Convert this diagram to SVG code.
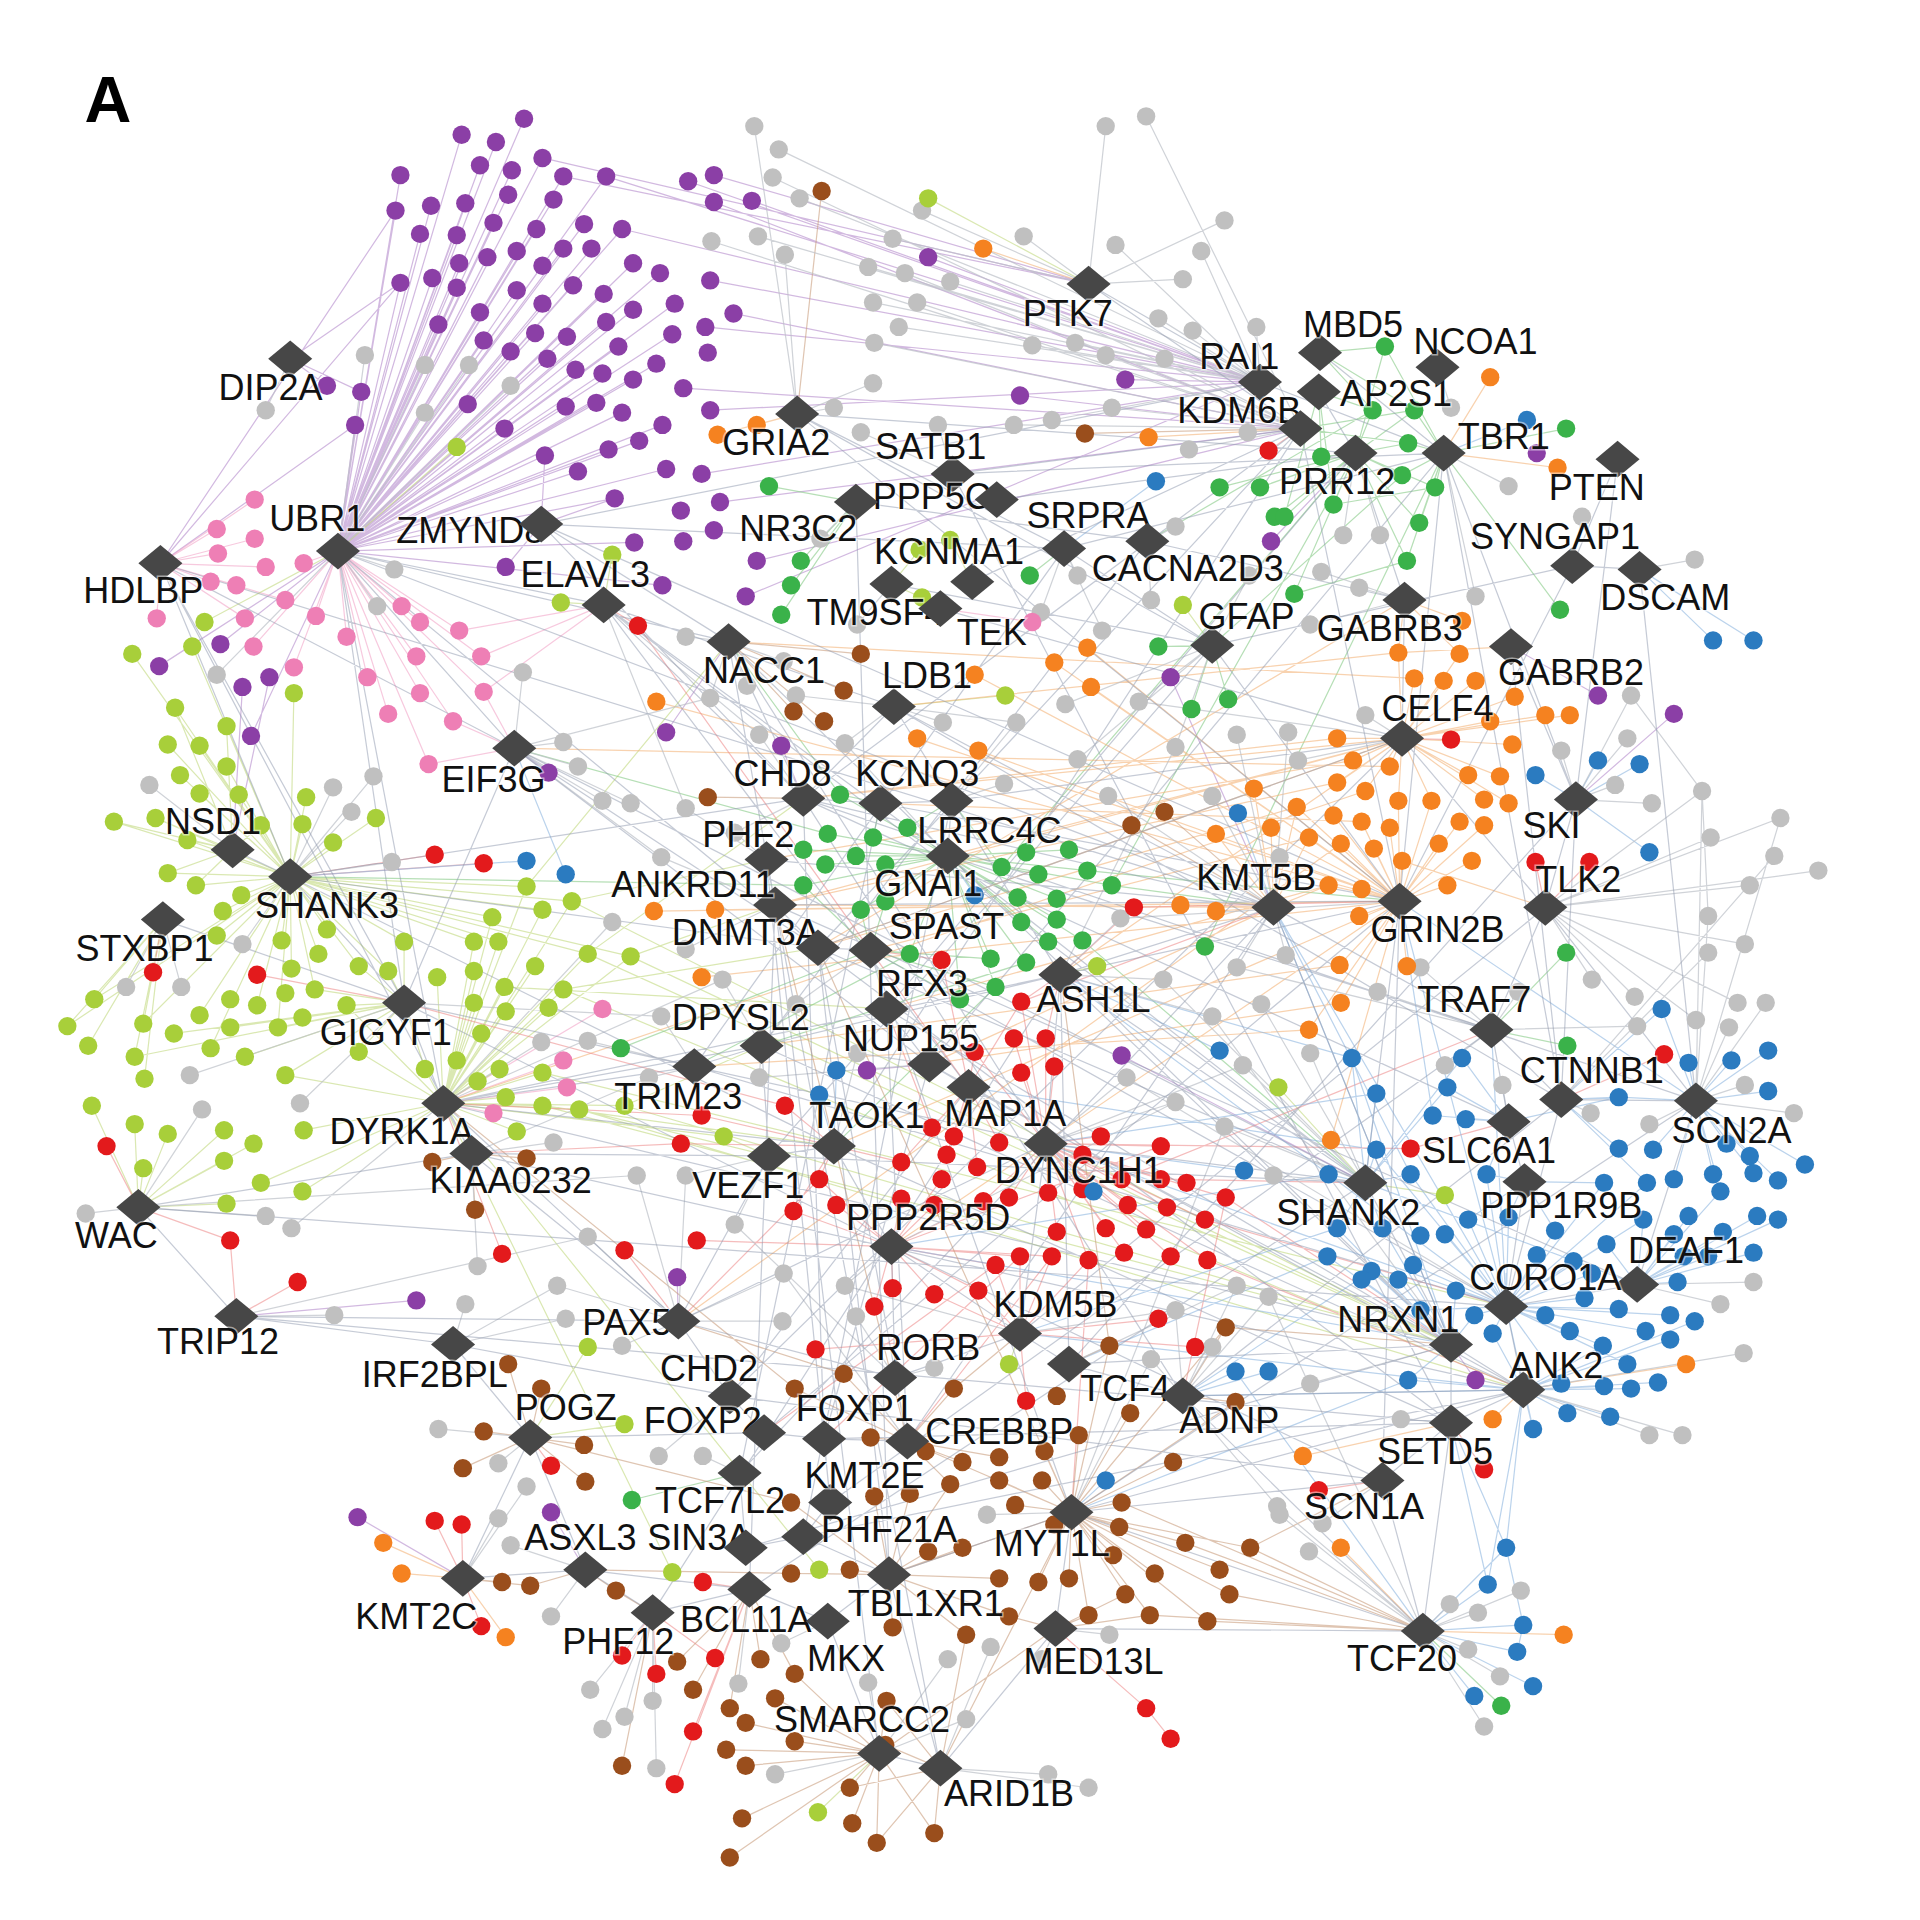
<svg xmlns="http://www.w3.org/2000/svg" width="1920" height="1920" viewBox="0 0 1920 1920">
<style>
.e path{fill:none;stroke-width:1;stroke-linecap:round}
.ep{stroke:#b48bcb;stroke-opacity:.6}
.ek{stroke:#f2a5c8;stroke-opacity:.6}
.ey{stroke:#c2d97f;stroke-opacity:.6}
.eg{stroke:#86c986;stroke-opacity:.6}
.eo{stroke:#f4b47a;stroke-opacity:.6}
.er{stroke:#ec8585;stroke-opacity:.55}
.eb{stroke:#8db6df;stroke-opacity:.6}
.en{stroke:#c99e7f;stroke-opacity:.6}
.ee{stroke:#bcc0c7;stroke-opacity:.7}
.eh{stroke:#8e98ae;stroke-opacity:.5}
.nd use{fill:#474747}
.nd text{font-family:"Liberation Sans",Arial,Helvetica,sans-serif;font-size:29.4px;text-anchor:middle;fill:#111;stroke:#fff;stroke-width:2.5px;stroke-opacity:.5;paint-order:stroke}
.ttl{font-family:"Liberation Sans Narrow","Liberation Sans",Arial,sans-serif;font-size:53px;font-weight:bold;fill:#000}
</style>
<defs>
<circle id="d" r="7.5"/>
<path id="dm" d="M0-15L18 0L0 15L-18 0Z"/>
</defs>
<rect width="1920" height="1920" fill="#fff"/>
<g transform="scale(1.2244898)">
<text class="ttl" x="69" y="100">A</text>
<g id="connectors" class="e">
<path class="ep" d="M276 450L428 97M276 450L377 110M276 450L405 116M276 450L443 129M276 450L392 135M276 450L418 139M276 450L460 144M276 450L495 144M276 450L327 143M276 450L415 159M276 450L452 163M276 450L323 172M276 450L352 168M276 450L380 166M276 450L403 182M276 450L438 187M276 450L477 183M276 450L508 187M276 450L343 191M276 450L373 192M276 450L398 210M276 450L422 205M276 450L443 217M276 450L460 203M276 450L483 203M276 450L517 215M276 450L375 215M276 450L327 231M276 450L353 227M276 450L373 235M276 450L422 237M276 450L443 248M276 450L468 233M276 450L493 240M276 450L517 253M276 450L392 255M276 450L358 265M276 450L395 278M276 450L437 272M276 450L463 275M276 450L495 263M276 450L505 283M276 450L417 287M276 450L447 293M276 450L470 302M276 450L492 305M276 450L517 310M276 450L382 330M276 450L412 350M276 450L462 332M276 450L487 329M276 450L508 337M276 450L445 372M276 450L472 385M276 450L497 367M276 450L502 407M276 450L290 347M276 450L295 320M276 450L539 223M276 450L551 248M276 450L549 273M276 450L536 297M276 450L541 347M276 450L522 360M276 450L544 383M276 450L541 478M276 450L518 443M276 450L180 526M276 450L130 544M495 144L1029 312M508 187L1029 312M562 148L1029 312M583 165L1062 350M614 164L1029 312M580 229L1029 312M599 256L1062 350M576 267L1029 312M558 317L1062 350M580 335L1029 312M618 458L1062 350M609 487L1029 312M758 210L1029 312M833 323L1062 350M919 310L1029 312M443 129L889 232M460 144L889 232M583 143L889 232M237 293L295 320M237 293L267 315M237 293L327 231M131 460L327 231M131 460L290 347M131 460L323 172M442 428L445 372M442 428L413 463M442 428L502 407M190 694L198 561M190 694L220 553M420 611L448 631M276 450L205 601M588 410L1062 350M573 387L1029 312M1038 442L1107 370M956 553L1040 741M916 862L1115 966M708 874L759 869M553 1043L554 1079M340 1062L193 1075M292 1239L378 1289M450 1235L478 1282M1205 1127L1185 1098M1305 568L1234 528M1367 583L1287 653M544 598L595 524M638 609L656 652"/>
<path class="ek" d="M131 460L208 408M131 460L177 432M131 460L208 440M131 460L178 452M131 460L217 463M131 460L172 475M131 460L193 478M131 460L128 505M131 460L200 505M131 460L233 490M276 450L248 460M276 450L258 503M276 450L328 495M276 450L343 508M276 450L375 515M276 450L207 528M276 450L340 536M276 450L393 536M276 450L343 566M276 450L395 565M276 450L317 583M276 450L370 589M276 450L350 624M276 450L283 520M276 450L240 545M276 450L300 553M362 901L492 824M362 901L460 866M362 901L463 888M362 901L403 909M493 494L375 515M493 494L393 536M493 494L395 565M420 611L370 589M420 611L350 624M420 611L395 565M768 497L843 508"/>
<path class="ey" d="M237 716L108 534M237 716L157 528M237 716L240 566M237 716L143 578M237 716L185 593M237 716L137 608M237 716L163 609M237 716L147 633M237 716L185 626M237 716L163 648M237 716L195 649M237 716L250 651M237 716L93 671M237 716L127 668M237 716L153 686M237 716L213 674M237 716L247 673M237 716L272 688M237 716L307 668M237 716L137 713M237 716L160 723M237 716L197 731M237 716L182 744M237 716L177 764M237 716L230 768M237 716L267 759M237 716L260 779M237 716L238 791M237 716L293 789M237 716L317 793M237 716L330 769M237 716L402 749M237 716L430 724M237 716L443 743M237 716L467 736M237 716L387 769M237 716L407 769M237 716L480 779M237 716L515 781M237 716L77 816M237 716L55 838M237 716L117 836M237 716L163 829M237 716L210 821M237 716L257 808M237 716L172 856M237 716L227 839M362 901L402 749M362 901L430 724M362 901L443 743M362 901L467 736M362 901L387 769M362 901L407 769M362 901L480 779M362 901L515 781M362 901L357 798M362 901L387 793M362 901L412 806M362 901L437 789M362 901L460 808M362 901L387 819M362 901L413 826M362 901L448 823M362 901L393 844M362 901L373 866M362 901L408 873M362 901L443 876M362 901L390 883M362 901L443 903M362 901L473 906M362 901L510 903M362 901L413 896M362 901L422 924M362 901L283 821M362 901L293 859M362 901L347 873M362 901L233 878M362 901L248 923M362 901L213 966M362 901L247 973M330 819L283 821M330 819L257 808M330 819L293 789M330 819L317 793M330 819L330 769M330 819L347 873M330 819L293 859M330 819L233 878M330 819L200 863M330 819L188 839M330 819L247 831M330 819L227 839M330 819L142 844M330 819L110 863M190 694L143 578M190 694L185 593M190 694L93 671M190 694L127 668M190 694L153 686M190 694L213 674M190 694L137 713M190 694L160 723M133 751L77 816M133 751L55 838M133 751L72 854M133 751L117 836M133 751L110 863M133 751L118 881M113 986L75 903M113 986L110 918M113 986L137 926M113 986L117 954M113 986L183 948M113 986L185 983M113 986L207 934M113 986L183 923M362 901L591 928M362 901L549 1284M362 901L669 1282M276 450L373 365M276 450L167 508M493 494L500 453M493 494L458 492M728 477L751 449M728 477L753 488M794 475L776 441M990 527L966 494M730 577L821 568M866 796L896 789M1115 966L1180 976M1115 966L1044 888M833 1089L824 1114M433 1174L480 1100M433 1174L510 1163M718 1432L668 1480M628 944L591 928M758 162L889 232M1185 1098L480 779M1185 1098L515 781M1185 1098L443 903M1185 1098L510 903M1244 1135L460 808M1244 1135L473 906M1185 1098L467 736M1230 1067L443 876M515 781L633 739M480 779L656 652M510 903L622 854M473 906L628 944M443 903L681 936M460 808L668 774M467 736L626 702M430 724L595 524M412 806L724 824"/>
<path class="eg" d="M774 699L686 649M774 699L676 681M774 699L713 684M774 699L656 694M774 699L699 699M774 699L741 676M774 699L674 706M774 699L723 706M774 699L656 723M774 699L703 743M774 699L723 736M774 699L818 708M774 699L838 696M774 699L873 694M774 699L848 714M774 699L908 723M774 699L831 733M774 699L863 734M774 699L888 711M774 699L834 753M774 699L863 751M774 699L884 768M774 699L809 783M774 699L838 786M774 699L856 769M774 699L813 806M774 699L743 779M774 699L784 816M711 776L656 723M711 776L703 743M711 776L723 736M711 776L743 779M711 776L784 816M711 776L809 783M711 776L813 806M711 776L507 856M1107 370L1131 283M1107 370L1121 335M1107 370L1155 335M1107 370L1150 362M1107 370L1079 373M1107 370L1145 388M1107 370L1172 398M1107 370L1089 412M1107 370L1049 422M1107 370L1159 427M1107 370L1149 458M1107 370L1057 485M1107 370L996 398M1107 370L1029 398M1107 370L1041 422M1179 370L1131 283M1179 370L1155 335M1179 370L1150 362M1179 370L1145 388M1179 370L1172 398M1179 370L1159 427M1179 370L1149 458M1179 370L1279 350M1179 370L1274 498M1078 288L1131 283M1078 288L1121 335M1078 288L1155 335M1077 320L1121 335M1077 320L1079 373M1077 320L1089 412M1077 320L1049 422M699 410L628 397M699 410L654 458M699 410L646 478M699 410L638 502M990 527L946 528M990 527L973 579M990 527L1003 571M1218 841L1279 778M1218 841L1280 854M1107 370L818 708M1107 370L908 723M1179 370L984 773M869 448L841 470M604 1203L516 1225M1162 1332L1226 1393M1149 458L1057 485M1172 398L1089 412M1062 350L1155 335M1062 350L1150 362M686 649L595 524M676 681L420 611M656 723L237 716M908 723L1040 741M888 711L1143 736M884 768L1115 966M838 786L622 854M813 806L681 936M743 779L567 871M719 656L686 649M719 656L713 684M777 654L741 676M777 654L818 708M1145 388L990 527M1121 335L937 442"/>
<path class="eo" d="M1143 736L1059 659M1143 736L1089 666M1143 736L1112 671M1143 736L1135 676M1143 736L1192 671M1143 736L1212 674M1143 736L1069 684M1143 736L1095 689M1143 736L1122 693M1143 736L1145 703M1143 736L1175 689M1143 736L1202 703M1143 736L1085 723M1143 736L1112 726M1143 736L1182 723M1143 736L1110 748M1143 736L1094 788M1143 736L1149 789M1143 736L1095 819M1143 736L1069 841M1143 736L1142 654M1143 736L1169 654M1145 603L1142 533M1145 603L1192 534M1145 603L1155 554M1145 603L1179 556M1145 603L1205 556M1145 603L1237 569M1145 603L1262 584M1145 603L1282 584M1145 603L1217 589M1145 603L1092 603M1145 603L1235 608M1145 603L1105 621M1145 603L1135 626M1145 603L1092 639M1145 603L1115 646M1145 603L1199 633M1145 603L1225 634M1145 603L1142 654M1145 603L1169 654M1145 603L1212 653M1145 603L1232 656M1040 741L1024 644M1040 741L1038 676M1040 741L993 681M1040 741L964 739M1040 741L993 744M1040 741L1059 659M1040 741L1069 684M1040 741L1085 723M1147 490L1194 507M1147 490L1142 533M1147 490L1192 534M1143 736L861 541M1143 736L888 529M1143 736L891 561M1143 736L796 551M1143 736L749 603M1143 736L799 613M1143 736L536 573M1143 736L534 744M1143 736L584 743M1143 736L573 798M1145 603L668 774M1145 603L633 739M1147 490L668 774M1179 370L1217 308M1179 370L1272 382M1062 350L938 357M889 232L803 203M378 1289L313 1260M378 1289L328 1285M378 1289L413 1337M1244 1135L1377 1114M1244 1135L1219 1159M1185 1162L1064 1189M1162 1332L1095 1264M1162 1332L1277 1335M651 338L618 347M651 338L586 355M1040 741L633 739M1145 603L656 652M1143 736L1087 931M1262 741L1145 703M1234 528L1142 533M1092 603L656 652M1105 621L626 702M1092 639L633 739M1059 659L668 774M1069 684L711 776M1085 723L724 824M1094 788L622 854M1069 841L567 871M1095 819L759 869M1112 671L719 656M1142 533L730 577M1155 554L595 524M1135 626L420 611M1115 646L362 901M1095 689L554 1079M1143 736L728 1018M1145 603L866 796M1040 741L759 869M1143 736L681 936M1145 603L774 699"/>
<path class="er" d="M854 934L834 818M854 934L828 848M854 934L854 848M854 934L796 859M854 934L834 876M854 934L861 871M854 934L899 928M854 934L884 943M854 934L916 963M854 934L948 963M854 934L969 966M854 934L948 936M854 934L856 974M854 934L884 971M854 934L921 984M854 934L953 986M854 934L1001 978M854 934L984 996M854 934L863 1006M854 934L903 1003M854 934L936 1004M854 934L889 1029M854 934L918 1023M854 934L956 1026M854 934L986 1029M854 934L824 978M854 934L803 981M791 888L769 784M791 888L834 818M791 888L796 859M791 888L761 921M791 888L779 928M791 888L773 943M791 888L798 953M791 888L816 933M791 888L736 949M728 1018L669 963M728 1018L648 989M728 1018L683 984M728 1018L736 979M728 1018L763 984M728 1018L769 963M728 1018L803 981M728 1018L833 1026M728 1018L813 1033M728 1018L859 1026M728 1018L569 1013M728 1018L714 1067M728 1018L729 1052M728 1018L763 1057M728 1018L799 1054M833 1089L833 1026M833 1089L813 1033M833 1089L859 1026M833 1089L889 1029M833 1089L946 1077M833 1089L976 1100M833 1089L838 1144M833 1089L799 1054M833 1089L763 1057M833 1089L666 1102M681 936L641 903M681 936L573 911M681 936L556 934M681 936L669 963M681 936L648 989M866 796L926 741M866 796L834 818M866 796L854 848M237 716L355 698M237 716L395 705M133 751L125 794M330 819L210 796M113 986L87 936M113 986L188 1013M193 1075L243 1047M193 1075L188 1013M362 901L410 1024M554 1079L510 1021M378 1289L355 1242M378 1289L377 1245M378 1289L393 1328M433 1174L450 1197M533 1317L508 1352M533 1317L536 1367M533 1317L584 1354M612 1298L574 1292M612 1298L566 1414M612 1298L551 1457M862 1330L936 1395M936 1395L956 1420M1062 350L1036 368M1145 603L1185 604M1262 741L1254 704M1262 741L1298 704M1232 916L1152 938M1275 898L1359 861M1185 1162L1212 1200M1129 1209L1077 1217M854 934L1152 938M791 888L521 511M493 494L521 511M728 1018L948 936M926 741L1143 736M834 818L1040 741M641 903L330 819M573 911L362 901M556 934L385 942M669 963L554 1079M948 963L1115 966M1001 978L1185 1098M984 996L1230 1067M986 1029L1244 1135M889 1029L875 1235M859 1026L741 1177M833 1026L673 1175M813 1033L624 1170M916 963L1218 841M769 784L711 776M761 921L724 824M736 949L681 936M1001 978L966 1140"/>
<path class="eb" d="M1230 1067L1189 1054M1230 1067L1204 1074M1230 1067L1219 1089M1230 1067L1262 1074M1230 1067L1282 1087M1230 1067L1294 1060M1230 1067L1322 1069M1230 1067L1344 1087M1230 1067L1364 1074M1230 1067L1309 1099M1230 1067L1329 1114M1230 1067L1275 1130M1230 1067L1252 1167M1230 1067L1199 996M1230 1067L1232 994M1230 1067L1180 1008M1230 1067L1154 1033M1230 1067L1255 1025M1230 1067L1285 1030M1230 1067L1230 1040M1230 1067L1270 1005M1230 1067L1300 1040M1230 1067L1310 1016M1230 1067L1342 996M1230 1067L1160 1070M1230 1067L1310 966M1230 1067L1345 966M1230 1067L1214 959M1230 1067L1152 959M1230 1067L1124 939M1244 1135L1275 1130M1244 1135L1310 1132M1244 1135L1332 1134M1244 1135L1354 1129M1244 1135L1252 1167M1244 1135L1280 1154M1244 1135L1315 1157M1244 1135L1150 1127M1244 1135L1219 1089M1244 1135L1309 1099M1244 1135L1384 1079M1244 1135L1364 1094M1244 1135L1230 1264M1244 1135L1215 1294M1385 899L1357 824M1385 899L1379 868M1385 899L1414 866M1385 899L1444 858M1385 899L1444 891M1385 899L1322 896M1385 899L1350 939M1385 899L1410 934M1385 899L1429 944M1385 899L1474 951M1385 899L1367 963M1385 899L1399 959M1385 899L1432 958M1385 899L1405 973M1385 899L1452 964M1185 1098L1104 864M1185 1098L1092 1003M1185 1098L1120 1038M1185 1098L1084 1026M1185 1098L1129 1003M1185 1098L1150 1127M1185 1098L1160 1070M1185 1098L1189 1054M1185 1098L1112 1045M1185 1098L1142 1045M1185 1098L1204 1074M1115 966L1104 864M1115 966L1124 893M1115 966L1085 959M1115 966L1152 959M1115 966L1092 1003M1115 966L1129 1003M1115 966L1124 939M1115 966L1194 864M1115 966L1182 888M1232 916L1194 864M1232 916L1182 888M1232 916L1170 911M1232 916L1197 914M1232 916L1214 959M1232 916L1322 896M1245 965L1214 959M1245 965L1232 994M1245 965L1270 1005M1245 965L1310 966M1245 965L1199 996M1337 1049L1367 1008M1337 1049L1379 993M1337 1049L1395 1026M1337 1049L1375 1026M1337 1049L1407 1006M1337 1049L1432 1023M1337 1049L1370 1047M1337 1049L1435 993M1337 1049L1452 996M1337 1049L1405 973M1337 1049L1342 996M1337 1049L1312 1016M1275 898L1322 896M1275 898L1322 938M1275 898L1357 824M1275 898L1345 966M1162 1332L1230 1264M1162 1332L1215 1294M1162 1332L1244 1327M1162 1332L1239 1349M1162 1332L1252 1377M1162 1332L1204 1385M1185 1162L1230 1264M1185 1162L1215 1294M1287 653L1305 621M1287 653L1339 624M1287 653L1254 633M1287 653L1347 696M1339 465L1399 523M1339 465L1432 523M869 448L944 393M1179 370L1247 343M237 716L430 703M420 611L462 714M1040 741L1011 664M866 796L996 858M681 936L683 874M681 936L669 894M854 934L1016 956M854 934L893 973M966 1140L1009 1120M966 1140L1036 1120M875 1235L903 1209M774 699L796 731M1230 1067L854 934M1230 1067L866 796M1244 1135L833 1089M1185 1098L728 1018M1162 1332L1009 1120M1244 1327L1239 1349M1230 1264L1244 1327M1104 864L866 796M1124 893L854 934M1085 959L728 1018M1092 1003L833 1089M1084 1026L873 1114M1120 1038L966 1140M1124 939L791 888M1152 959L1040 741M1170 911L1143 736M1150 1127L875 1235M1230 1067L1040 741M1244 1135L966 1140M1185 1098L1040 741M1230 1067L1143 736M1337 1049L1115 966M1385 899L1143 736M1230 1067L1218 841"/>
<path class="en" d="M875 1235L829 1229M875 1235L916 1227M875 1235L861 1245M875 1235L914 1247M875 1235L968 1260M875 1235L1021 1264M875 1235L816 1209M875 1235L851 1209M875 1235L881 1172M875 1235L853 1185M875 1235L909 1270M875 1235L943 1285M875 1235L873 1289M875 1235L848 1292M875 1235L889 1319M875 1235L919 1302M875 1235L996 1282M875 1235L1004 1302M875 1235L939 1319M875 1235L986 1324M875 1235L906 1099M875 1235L923 1154M875 1235L958 1194M875 1235L1009 1145M875 1235L1001 1084M726 1286L758 1267M726 1286L786 1264M726 1286L694 1282M726 1286L646 1285M726 1286L743 1220M726 1286L714 1222M726 1286L776 1212M726 1286L816 1289M726 1286L729 1329M726 1286L789 1335M726 1286L824 1320M726 1286L646 1227M741 1177L711 1174M741 1177L756 1185M741 1177L786 1194M741 1177L816 1190M741 1177L779 1134M741 1177L689 1122M741 1177L649 1134M741 1177L776 1212M718 1432L649 1422M718 1432L609 1407M718 1432L593 1429M718 1432L609 1442M718 1432L694 1460M718 1432L724 1389M718 1432L723 1425M718 1432L606 1485M718 1432L696 1489M718 1432L716 1505M718 1432L763 1497M718 1432L596 1517M718 1432L633 1387M718 1432L649 1367M768 1444L694 1460M768 1444L716 1505M768 1444L763 1497M768 1444L724 1389M768 1444L723 1425M768 1444L789 1335M862 1330L889 1319M862 1330L824 1320M862 1330L939 1319M862 1330L919 1302M612 1298L553 1357M612 1298L621 1355M612 1298L649 1367M612 1298L566 1380M612 1298L596 1395M433 1174L415 1114M433 1174L442 1134M433 1174L395 1169M433 1174L477 1180M433 1174L378 1199M433 1174L478 1210M378 1289L410 1292M378 1289L433 1295M478 1282L503 1299M478 1282L433 1295M533 1317L508 1442M533 1317L503 1299M385 942L353 949M385 942L430 946M385 942L388 988M651 338L671 156M1062 350L886 354M595 524L703 534M595 524L689 564M595 524L648 581M595 524L673 589M656 652L578 651M1040 741L924 674M1040 741L951 663M875 1235L741 1177M726 1286L875 1235M718 1432L862 1330M768 1444L875 1235M873 1114L906 1099M966 1140L1001 1084M966 1140L1009 1145M689 1122L554 1079M649 1134L362 901M779 1134L833 1089M906 1099L866 796M1001 1084L1185 1098M1021 1264L1129 1209M646 1227L433 1174M646 1285L478 1282M1162 1332L968 1260M1162 1332L1021 1264M1162 1332L1004 1302M1162 1332L986 1324M1162 1332L939 1319M1162 1332L916 1227M741 1177L633 739M875 1235L668 774"/>
<path class="ee" d="M616 103L651 338M636 122L1029 312M631 145L1062 350M653 162L1029 312M581 197L1062 350M619 193L1029 312M641 208L651 338M729 195L889 232M753 172L889 232M836 193L889 232M903 103L889 232M936 95L1062 350M1000 180L889 232M981 205L1029 312M966 228L889 232M911 200L1029 312M709 218L1029 312M739 223L1062 350M776 230L1029 312M713 247L1029 312M749 247L1062 350M734 267L1029 312M714 280L1062 350M843 282L1029 312M878 280L1029 312M903 290L1062 350M946 260L1029 312M974 270L1029 312M1026 267L1029 312M951 293L1062 350M713 313L651 338M681 333L651 338M703 353L778 387M766 347L778 387M828 347L1062 350M859 343L1029 312M908 333L1062 350M971 367L1062 350M1019 353L1062 350M1332 568L1287 653M1329 603L1287 653M1275 613L1287 653M1319 641L1287 653M1349 656L1287 653M1390 646L1262 741M1454 668L1262 741M1397 684L1262 741M1449 699L1275 898M1429 723L1262 741M1485 711L1262 741M1395 748L1385 899M1425 771L1262 741M1395 778L1275 898M1335 814L1262 741M1337 838L1218 841M1385 833L1262 741M1412 839L1385 899M1419 819L1262 741M1442 819L1385 899M1425 886L1385 899M1465 909L1385 899M1299 909L1275 898M1347 918L1385 899M1227 886L1232 916M1060 621L1145 603M1115 584L1145 603M1052 598L1040 741M1390 646L1385 899M1454 668L1385 899M1390 646L1395 748M1332 568L1390 646M1405 1065L1337 1049M1432 1047L1337 1049M1424 1105L1244 1135M1347 1172L1244 1135M1374 1172L1244 1135M1242 1299L1162 1332M1184 1310L1162 1332M1207 1317L1162 1332M1199 1347L1162 1332M1225 1369L1162 1332M1212 1410L1162 1332M1070 1130L1185 1098M1144 1159L1185 1162M1069 1267L1162 1332M1045 1237L1162 1332M1080 1244L1129 1209M122 641L190 694M177 551L276 450M272 643L237 716M305 634L237 716M287 663L237 716M320 704L237 716M198 771L237 716M103 806L133 751M148 806L133 751M155 878L330 819M165 906L113 986M245 901L330 819M70 991L113 986M217 993L113 986M238 1003L362 901M427 549L420 611M460 606L420 611M472 626L420 611M492 654L420 611M515 656L420 611M500 753L362 901M442 851L362 901M452 933L385 942M390 1034L385 942M298 290L276 450M347 298L276 450M383 298L276 450M417 315L276 450M347 337L276 450M217 335L237 293M322 465L276 450M308 495L276 450M273 1074L193 1075M380 1065L370 1098M358 1167L433 1174M407 1195L433 1174M430 1214L378 1289M407 1240L378 1289M417 1262L478 1282M450 1320L478 1282M482 1380L533 1317M510 1402L533 1317M492 1412L533 1317M462 1077L370 1098M508 1099L554 1079M538 1189L596 1140M574 1189L604 1203M639 1079L554 1079M699 1075L731 1125M763 1117L731 1125M806 1237L875 1235M906 1335L862 1330M856 1449L768 1444M889 1460L768 1444M789 1404L718 1432M851 1355L862 1330M809 1345L768 1444M774 1355L718 1432M603 1375L612 1298M709 1374L718 1432M633 1449L718 1432M638 1342L676 1324M1036 1059L966 1140M1043 1230L966 1140M533 1389L533 1317M536 1444L533 1317M1185 333L1174 300M1232 397L1179 370M1205 487L1179 370M1110 480L1147 490M1127 437L1107 370M1097 437L1107 370M1079 467L1147 490M1384 457L1339 465M1292 422L1284 462M580 570L595 524M610 560L595 524M650 568L730 577M620 600L656 652M690 607L730 577M770 590L730 577M830 590L730 577M870 575L990 527M930 573L990 527M820 640L777 654M880 620L990 527M905 650L1040 741M960 610L990 527M1010 600L1040 741M990 650L1040 741M1045 700L1040 741M915 750L866 796M950 800L866 796M1010 790L1040 741M1050 780L1040 741M990 830L866 796M1030 820L1115 966M1070 860L1115 966M1015 870L1115 966M920 880L854 934M960 900L854 934M1000 920L1115 966M1040 960L1115 966M590 800L622 854M540 830L567 871M560 775L633 739M480 850L567 871M530 880L567 871M560 960L628 944M600 1000L628 944M640 1040L554 1079M690 1050L728 1018M520 960L554 1079M480 1010L554 1079M455 1050L554 1079M620 880L622 854M700 860L759 869M650 820L622 854M1010 1050L966 1140M960 1070L966 1140M940 1110L966 1140M990 1100L966 1140M600 680L626 702M560 660L626 702M540 700L633 739M1125 810L1218 841M1160 790L1218 841M1180 870L1218 841M1240 810L1218 841M1300 800L1262 741M850 500L869 448M900 515L869 448M940 490L937 442M880 470L869 448M1070 510L1147 490M1020 470L990 527M960 430L937 442M670 440L699 410M640 540L595 524M560 520L595 524M700 510L728 477M580 570L420 611M620 600L493 494M690 607L774 699M830 590L777 654M930 573L1145 603M960 610L866 796M915 750L1143 736M950 800L1115 966M1010 790L1218 841M990 830L1185 1098M1015 870L854 934M920 880L1230 1067M960 900L728 1018M1000 920L875 1235M590 800L362 901M540 830L330 819M530 880L385 942M560 960L554 1079M600 1000L731 1125M640 1040L741 1177M690 1050L833 1089M520 960L113 986M480 1010L193 1075M455 1050L370 1098M620 880L759 869M700 860L681 936M650 820L711 776M1010 1050L873 1114M960 1070L833 1089M940 1110L875 1235M600 680L656 652M560 660L493 494M540 700L420 611M1162 1332L1043 1230M1162 1332L1036 1059"/>
<path class="eh" d="M276 450L493 494M276 450L420 611M276 450L362 901M276 450L330 819M276 450L595 524M276 450L1040 741M276 450L668 774M131 460L237 716M131 460L330 819M131 460L420 611M131 460L385 942M442 428L869 448M442 428L1029 312M442 428L595 524M442 428L656 652M493 494L774 699M493 494L656 652M493 494L730 577M493 494L1115 966M651 338L990 527M651 338L1107 370M651 338L869 448M651 338L1143 736M778 387L1062 350M778 387L1179 370M778 387L1185 1162M699 410L937 442M699 410L726 1286M814 408L1107 370M869 448L1179 370M869 448L990 527M937 442L1147 490M728 477L990 527M794 475L1062 350M768 497L1145 603M990 527L1143 736M990 527L1284 462M595 524L656 652M595 524L633 739M730 577L1040 741M730 577L656 652M889 232L1029 312M889 232L1062 350M1029 312L1179 370M1062 350L1143 736M1062 350L656 652M1062 350L668 774M1078 288L1179 370M1077 320L1107 370M1107 370L1147 490M1179 370L1143 736M1179 370L1275 898M1179 370L1287 653M1321 375L1284 462M1321 375L1287 653M1284 462L1339 465M1284 462L1143 736M1339 465L1385 899M1147 490L1145 603M1234 528L1287 653M1234 528L1275 898M1145 603L1262 741M1145 603L668 774M1287 653L1262 741M1287 653L1275 898M1262 741L1218 841M1262 741L1385 899M1143 736L1115 966M1143 736L866 796M1040 741L866 796M1040 741L1185 1098M1040 741L1218 841M1040 741L741 1177M1218 841L1275 898M1218 841L1232 916M1275 898L1385 899M1275 898L1230 1067M1385 899L1337 1049M1232 916L1245 965M1245 965L1230 1067M1115 966L1185 1098M1115 966L854 934M1115 966L866 796M1337 1049L1230 1067M1230 1067L1244 1135M1185 1098L1244 1135M1185 1098L1185 1162M1185 1098L791 888M1185 1098L866 796M1244 1135L1185 1162M1185 1162L1129 1209M1185 1162L1162 1332M1129 1209L1162 1332M1129 1209L875 1235M1162 1332L862 1330M1162 1332L875 1235M1162 1332L966 1140M420 611L668 774M420 611L330 819M190 694L237 716M237 716L330 819M237 716L668 774M237 716L656 652M133 751L330 819M330 819L362 901M330 819L567 871M362 901L385 942M362 901L567 871M362 901L622 854M362 901L1185 1098M362 901L681 936M362 901L554 1079M385 942L628 944M385 942L554 1079M385 942L1244 1135M113 986L1230 1067M113 986L193 1075M113 986L385 942M193 1075L370 1098M193 1075L554 1079M193 1075L1185 1162M370 1098L433 1174M370 1098L596 1140M433 1174L378 1289M433 1174L478 1282M433 1174L624 1170M378 1289L478 1282M478 1282L533 1317M478 1282L612 1298M533 1317L612 1298M554 1079L596 1140M554 1079L731 1125M554 1079L628 944M596 1140L624 1170M596 1140L1129 1209M624 1170L673 1175M673 1175L741 1177M673 1175L1185 1162M741 1177L731 1125M731 1125L833 1089M833 1089L873 1114M873 1114L966 1140M873 1114L1185 1098M966 1140L1244 1135M678 1227L673 1175M678 1227L656 1255M604 1203L609 1264M609 1264L656 1255M656 1255L726 1286M875 1235L726 1286M875 1235L862 1330M875 1235L1244 1135M726 1286L676 1324M726 1286L768 1444M612 1298L676 1324M676 1324L718 1432M718 1432L768 1444M768 1444L862 1330M656 652L719 656M656 652L966 1140M656 652L673 1175M656 652L1385 899M719 656L777 654M777 654L774 699M626 702L633 739M633 739L668 774M633 739L768 1444M633 739L718 1432M668 774L711 776M668 774L741 1177M711 776L724 824M724 824L759 869M759 869L791 888M791 888L854 934M866 796L854 934M866 796L873 1114M622 854L567 871M622 854L628 944M681 936L628 944M681 936L728 1018M728 1018L833 1089M728 1018L731 1125M854 934L833 1089M1143 736L1129 1209M493 494L1115 966M131 460L1040 741M442 428L1143 736M595 524L1185 1098M567 871L1230 1067M622 854L1244 1135M668 774L1185 1162M633 739L1337 1049M420 611L1115 966M656 652L1232 916M774 699L1218 841M730 577L1275 898M990 527L628 944M1062 350L681 936M1107 370L724 824M1179 370L759 869M937 442L622 854M869 448L567 871M1145 603L596 1140M1143 736L624 1170M1040 741L604 1203M1218 841L678 1227M1185 1098L609 1264M1244 1135L656 1255M1115 966L612 1298M866 796L533 1317M1385 899L875 1235M1287 653L873 1114M1262 741L833 1089M1275 898L966 1140M626 702L1040 741M633 739L1143 736M668 774L1115 966M711 776L1230 1067M724 824L1185 1098M759 869L1244 1135M622 854L866 796M567 871L854 934M628 944L1115 966M681 936L1185 1162M728 1018L1129 1209M719 656L1143 736M777 654L1145 603M656 652L1040 741M774 699L1115 966M866 796L622 854M854 934L554 1079M791 888L596 1140M759 869L673 1175M724 824L741 1177M711 776L875 1235M668 774L726 1286M633 739L612 1298M626 702L678 1227M719 656L604 1203M777 654L656 1255M730 577L866 796M595 524L854 934M493 494L791 888M420 611L759 869M362 901L866 796M330 819L728 1018M237 716L681 936"/>
</g>
<g id="dots-grey" fill="#c0c0c0">
<use href="#d" x="616" y="103"/><use href="#d" x="636" y="122"/><use href="#d" x="631" y="145"/><use href="#d" x="653" y="162"/><use href="#d" x="581" y="197"/><use href="#d" x="619" y="193"/><use href="#d" x="641" y="208"/><use href="#d" x="729" y="195"/><use href="#d" x="753" y="172"/><use href="#d" x="836" y="193"/><use href="#d" x="903" y="103"/><use href="#d" x="936" y="95"/><use href="#d" x="1000" y="180"/><use href="#d" x="981" y="205"/><use href="#d" x="966" y="228"/><use href="#d" x="911" y="200"/><use href="#d" x="709" y="218"/><use href="#d" x="739" y="223"/><use href="#d" x="776" y="230"/><use href="#d" x="713" y="247"/><use href="#d" x="749" y="247"/><use href="#d" x="734" y="267"/><use href="#d" x="714" y="280"/><use href="#d" x="843" y="282"/><use href="#d" x="878" y="280"/><use href="#d" x="903" y="290"/><use href="#d" x="946" y="260"/><use href="#d" x="974" y="270"/><use href="#d" x="1026" y="267"/><use href="#d" x="951" y="293"/><use href="#d" x="713" y="313"/><use href="#d" x="681" y="333"/><use href="#d" x="703" y="353"/><use href="#d" x="766" y="347"/><use href="#d" x="828" y="347"/><use href="#d" x="859" y="343"/><use href="#d" x="908" y="333"/><use href="#d" x="971" y="367"/><use href="#d" x="1019" y="353"/>
<use href="#d" x="1332" y="568"/><use href="#d" x="1329" y="603"/><use href="#d" x="1275" y="613"/><use href="#d" x="1319" y="641"/><use href="#d" x="1349" y="656"/><use href="#d" x="1390" y="646"/><use href="#d" x="1454" y="668"/><use href="#d" x="1397" y="684"/><use href="#d" x="1449" y="699"/><use href="#d" x="1429" y="723"/><use href="#d" x="1485" y="711"/><use href="#d" x="1395" y="748"/><use href="#d" x="1425" y="771"/><use href="#d" x="1395" y="778"/><use href="#d" x="1335" y="814"/><use href="#d" x="1337" y="838"/><use href="#d" x="1385" y="833"/><use href="#d" x="1412" y="839"/><use href="#d" x="1419" y="819"/><use href="#d" x="1442" y="819"/><use href="#d" x="1425" y="886"/><use href="#d" x="1465" y="909"/><use href="#d" x="1299" y="909"/><use href="#d" x="1347" y="918"/><use href="#d" x="1227" y="886"/><use href="#d" x="1060" y="621"/><use href="#d" x="1115" y="584"/><use href="#d" x="1052" y="598"/>
<use href="#d" x="1405" y="1065"/><use href="#d" x="1432" y="1047"/><use href="#d" x="1424" y="1105"/><use href="#d" x="1347" y="1172"/><use href="#d" x="1374" y="1172"/><use href="#d" x="1242" y="1299"/><use href="#d" x="1184" y="1310"/><use href="#d" x="1207" y="1317"/><use href="#d" x="1199" y="1347"/><use href="#d" x="1225" y="1369"/><use href="#d" x="1212" y="1410"/><use href="#d" x="1070" y="1130"/><use href="#d" x="1144" y="1159"/><use href="#d" x="1069" y="1267"/><use href="#d" x="1045" y="1237"/><use href="#d" x="1080" y="1244"/>
<use href="#d" x="273" y="1074"/><use href="#d" x="380" y="1065"/><use href="#d" x="358" y="1167"/><use href="#d" x="407" y="1195"/><use href="#d" x="430" y="1214"/><use href="#d" x="407" y="1240"/><use href="#d" x="417" y="1262"/><use href="#d" x="450" y="1320"/><use href="#d" x="482" y="1380"/><use href="#d" x="510" y="1402"/><use href="#d" x="492" y="1412"/><use href="#d" x="462" y="1077"/><use href="#d" x="508" y="1099"/><use href="#d" x="538" y="1189"/><use href="#d" x="574" y="1189"/><use href="#d" x="639" y="1079"/><use href="#d" x="699" y="1075"/><use href="#d" x="763" y="1117"/><use href="#d" x="806" y="1237"/><use href="#d" x="906" y="1335"/><use href="#d" x="856" y="1449"/><use href="#d" x="889" y="1460"/><use href="#d" x="789" y="1404"/><use href="#d" x="851" y="1355"/><use href="#d" x="809" y="1345"/><use href="#d" x="774" y="1355"/><use href="#d" x="603" y="1375"/><use href="#d" x="709" y="1374"/><use href="#d" x="633" y="1449"/><use href="#d" x="638" y="1342"/><use href="#d" x="1036" y="1059"/><use href="#d" x="1043" y="1230"/><use href="#d" x="533" y="1389"/><use href="#d" x="536" y="1444"/>
<use href="#d" x="298" y="290"/><use href="#d" x="347" y="298"/><use href="#d" x="383" y="298"/><use href="#d" x="417" y="315"/><use href="#d" x="347" y="337"/><use href="#d" x="217" y="335"/><use href="#d" x="322" y="465"/><use href="#d" x="308" y="495"/><use href="#d" x="1185" y="333"/><use href="#d" x="1232" y="397"/><use href="#d" x="1205" y="487"/><use href="#d" x="1110" y="480"/><use href="#d" x="1127" y="437"/><use href="#d" x="1097" y="437"/><use href="#d" x="1079" y="467"/><use href="#d" x="1384" y="457"/><use href="#d" x="1292" y="422"/>
<use href="#d" x="122" y="641"/><use href="#d" x="177" y="551"/><use href="#d" x="272" y="643"/><use href="#d" x="305" y="634"/><use href="#d" x="287" y="663"/><use href="#d" x="320" y="704"/><use href="#d" x="198" y="771"/><use href="#d" x="103" y="806"/><use href="#d" x="148" y="806"/><use href="#d" x="155" y="878"/><use href="#d" x="165" y="906"/><use href="#d" x="245" y="901"/><use href="#d" x="70" y="991"/><use href="#d" x="217" y="993"/><use href="#d" x="238" y="1003"/><use href="#d" x="427" y="549"/><use href="#d" x="460" y="606"/><use href="#d" x="472" y="626"/><use href="#d" x="492" y="654"/><use href="#d" x="515" y="656"/><use href="#d" x="500" y="753"/><use href="#d" x="442" y="851"/><use href="#d" x="452" y="933"/><use href="#d" x="390" y="1034"/>
<use href="#d" x="580" y="570"/><use href="#d" x="610" y="560"/><use href="#d" x="650" y="568"/><use href="#d" x="620" y="600"/><use href="#d" x="690" y="607"/><use href="#d" x="770" y="590"/><use href="#d" x="830" y="590"/><use href="#d" x="870" y="575"/><use href="#d" x="930" y="573"/><use href="#d" x="820" y="640"/><use href="#d" x="880" y="620"/><use href="#d" x="905" y="650"/><use href="#d" x="960" y="610"/><use href="#d" x="1010" y="600"/><use href="#d" x="990" y="650"/><use href="#d" x="1045" y="700"/><use href="#d" x="915" y="750"/><use href="#d" x="950" y="800"/><use href="#d" x="1010" y="790"/><use href="#d" x="1050" y="780"/><use href="#d" x="990" y="830"/><use href="#d" x="1030" y="820"/><use href="#d" x="1070" y="860"/><use href="#d" x="1015" y="870"/><use href="#d" x="920" y="880"/><use href="#d" x="960" y="900"/><use href="#d" x="1000" y="920"/><use href="#d" x="1040" y="960"/><use href="#d" x="590" y="800"/><use href="#d" x="540" y="830"/><use href="#d" x="560" y="775"/><use href="#d" x="480" y="850"/><use href="#d" x="530" y="880"/><use href="#d" x="560" y="960"/><use href="#d" x="600" y="1000"/><use href="#d" x="640" y="1040"/><use href="#d" x="690" y="1050"/><use href="#d" x="520" y="960"/><use href="#d" x="480" y="1010"/><use href="#d" x="455" y="1050"/><use href="#d" x="620" y="880"/><use href="#d" x="700" y="860"/><use href="#d" x="650" y="820"/><use href="#d" x="1010" y="1050"/><use href="#d" x="960" y="1070"/><use href="#d" x="940" y="1110"/><use href="#d" x="990" y="1100"/><use href="#d" x="600" y="680"/><use href="#d" x="560" y="660"/><use href="#d" x="540" y="700"/><use href="#d" x="1125" y="810"/><use href="#d" x="1160" y="790"/><use href="#d" x="1180" y="870"/><use href="#d" x="1240" y="810"/><use href="#d" x="1300" y="800"/><use href="#d" x="850" y="500"/><use href="#d" x="900" y="515"/><use href="#d" x="940" y="490"/><use href="#d" x="880" y="470"/><use href="#d" x="1070" y="510"/><use href="#d" x="1020" y="470"/><use href="#d" x="960" y="430"/><use href="#d" x="670" y="440"/><use href="#d" x="640" y="540"/><use href="#d" x="560" y="520"/><use href="#d" x="700" y="510"/>
</g>
<g id="dots-purple" fill="#8b3fa6">
<use href="#d" x="428" y="97"/><use href="#d" x="377" y="110"/><use href="#d" x="405" y="116"/><use href="#d" x="443" y="129"/><use href="#d" x="392" y="135"/><use href="#d" x="418" y="139"/><use href="#d" x="460" y="144"/><use href="#d" x="495" y="144"/><use href="#d" x="327" y="143"/><use href="#d" x="415" y="159"/><use href="#d" x="452" y="163"/><use href="#d" x="323" y="172"/><use href="#d" x="352" y="168"/><use href="#d" x="380" y="166"/><use href="#d" x="403" y="182"/><use href="#d" x="438" y="187"/><use href="#d" x="477" y="183"/><use href="#d" x="508" y="187"/><use href="#d" x="343" y="191"/><use href="#d" x="373" y="192"/><use href="#d" x="398" y="210"/><use href="#d" x="422" y="205"/><use href="#d" x="443" y="217"/><use href="#d" x="460" y="203"/><use href="#d" x="483" y="203"/><use href="#d" x="517" y="215"/><use href="#d" x="375" y="215"/><use href="#d" x="327" y="231"/><use href="#d" x="353" y="227"/><use href="#d" x="373" y="235"/><use href="#d" x="422" y="237"/><use href="#d" x="443" y="248"/><use href="#d" x="468" y="233"/><use href="#d" x="493" y="240"/><use href="#d" x="517" y="253"/><use href="#d" x="392" y="255"/><use href="#d" x="358" y="265"/><use href="#d" x="395" y="278"/><use href="#d" x="437" y="272"/><use href="#d" x="463" y="275"/><use href="#d" x="495" y="263"/><use href="#d" x="505" y="283"/><use href="#d" x="417" y="287"/><use href="#d" x="447" y="293"/><use href="#d" x="470" y="302"/><use href="#d" x="492" y="305"/><use href="#d" x="517" y="310"/><use href="#d" x="382" y="330"/><use href="#d" x="412" y="350"/><use href="#d" x="462" y="332"/><use href="#d" x="487" y="329"/><use href="#d" x="508" y="337"/><use href="#d" x="445" y="372"/><use href="#d" x="472" y="385"/><use href="#d" x="497" y="367"/><use href="#d" x="502" y="407"/><use href="#d" x="290" y="347"/><use href="#d" x="295" y="320"/><use href="#d" x="267" y="315"/><use href="#d" x="518" y="443"/><use href="#d" x="413" y="463"/><use href="#d" x="562" y="148"/><use href="#d" x="583" y="143"/><use href="#d" x="583" y="165"/><use href="#d" x="614" y="164"/><use href="#d" x="539" y="223"/><use href="#d" x="580" y="229"/><use href="#d" x="551" y="248"/><use href="#d" x="599" y="256"/><use href="#d" x="576" y="267"/><use href="#d" x="549" y="273"/><use href="#d" x="578" y="288"/><use href="#d" x="536" y="297"/><use href="#d" x="558" y="317"/><use href="#d" x="580" y="335"/><use href="#d" x="541" y="347"/><use href="#d" x="522" y="360"/><use href="#d" x="544" y="383"/><use href="#d" x="573" y="387"/><use href="#d" x="556" y="417"/><use href="#d" x="588" y="410"/><use href="#d" x="583" y="433"/><use href="#d" x="558" y="442"/><use href="#d" x="618" y="458"/><use href="#d" x="609" y="487"/><use href="#d" x="541" y="478"/><use href="#d" x="758" y="210"/><use href="#d" x="833" y="323"/><use href="#d" x="919" y="310"/><use href="#d" x="1038" y="442"/><use href="#d" x="130" y="544"/><use href="#d" x="180" y="526"/><use href="#d" x="198" y="561"/><use href="#d" x="220" y="553"/><use href="#d" x="205" y="601"/><use href="#d" x="448" y="631"/><use href="#d" x="544" y="598"/><use href="#d" x="638" y="609"/><use href="#d" x="956" y="553"/><use href="#d" x="1305" y="568"/><use href="#d" x="1367" y="583"/><use href="#d" x="916" y="862"/><use href="#d" x="708" y="874"/><use href="#d" x="553" y="1043"/><use href="#d" x="340" y="1062"/><use href="#d" x="292" y="1239"/><use href="#d" x="450" y="1235"/><use href="#d" x="1205" y="1127"/><use href="#d" x="1255" y="370"/>
</g>
<g id="dots-pink" fill="#ee7fb5">
<use href="#d" x="208" y="408"/><use href="#d" x="177" y="432"/><use href="#d" x="208" y="440"/><use href="#d" x="178" y="452"/><use href="#d" x="217" y="463"/><use href="#d" x="248" y="460"/><use href="#d" x="172" y="475"/><use href="#d" x="193" y="478"/><use href="#d" x="233" y="490"/><use href="#d" x="128" y="505"/><use href="#d" x="200" y="505"/><use href="#d" x="258" y="503"/><use href="#d" x="328" y="495"/><use href="#d" x="343" y="508"/><use href="#d" x="375" y="515"/><use href="#d" x="207" y="528"/><use href="#d" x="340" y="536"/><use href="#d" x="393" y="536"/><use href="#d" x="343" y="566"/><use href="#d" x="395" y="565"/><use href="#d" x="317" y="583"/><use href="#d" x="370" y="589"/><use href="#d" x="350" y="624"/><use href="#d" x="492" y="824"/><use href="#d" x="460" y="866"/><use href="#d" x="463" y="888"/><use href="#d" x="403" y="909"/><use href="#d" x="283" y="520"/><use href="#d" x="240" y="545"/><use href="#d" x="300" y="553"/><use href="#d" x="843" y="508"/>
</g>
<g id="dots-lightgreen" fill="#a8cf3a">
<use href="#d" x="108" y="534"/><use href="#d" x="157" y="528"/><use href="#d" x="240" y="566"/><use href="#d" x="143" y="578"/><use href="#d" x="185" y="593"/><use href="#d" x="137" y="608"/><use href="#d" x="163" y="609"/><use href="#d" x="147" y="633"/><use href="#d" x="185" y="626"/><use href="#d" x="163" y="648"/><use href="#d" x="195" y="649"/><use href="#d" x="250" y="651"/><use href="#d" x="93" y="671"/><use href="#d" x="127" y="668"/><use href="#d" x="153" y="686"/><use href="#d" x="213" y="674"/><use href="#d" x="247" y="673"/><use href="#d" x="272" y="688"/><use href="#d" x="307" y="668"/><use href="#d" x="137" y="713"/><use href="#d" x="160" y="723"/><use href="#d" x="197" y="731"/><use href="#d" x="182" y="744"/><use href="#d" x="177" y="764"/><use href="#d" x="230" y="768"/><use href="#d" x="267" y="759"/><use href="#d" x="260" y="779"/><use href="#d" x="238" y="791"/><use href="#d" x="293" y="789"/><use href="#d" x="317" y="793"/><use href="#d" x="330" y="769"/><use href="#d" x="402" y="749"/><use href="#d" x="430" y="724"/><use href="#d" x="443" y="743"/><use href="#d" x="467" y="736"/><use href="#d" x="387" y="769"/><use href="#d" x="407" y="769"/><use href="#d" x="480" y="779"/><use href="#d" x="515" y="781"/><use href="#d" x="357" y="798"/><use href="#d" x="387" y="793"/><use href="#d" x="412" y="806"/><use href="#d" x="437" y="789"/><use href="#d" x="460" y="808"/><use href="#d" x="77" y="816"/><use href="#d" x="55" y="838"/><use href="#d" x="72" y="854"/><use href="#d" x="117" y="836"/><use href="#d" x="142" y="844"/><use href="#d" x="163" y="829"/><use href="#d" x="188" y="816"/><use href="#d" x="210" y="821"/><use href="#d" x="233" y="811"/><use href="#d" x="257" y="808"/><use href="#d" x="283" y="821"/><use href="#d" x="172" y="856"/><use href="#d" x="188" y="839"/><use href="#d" x="227" y="839"/><use href="#d" x="247" y="831"/><use href="#d" x="110" y="863"/><use href="#d" x="118" y="881"/><use href="#d" x="200" y="863"/><use href="#d" x="233" y="878"/><use href="#d" x="293" y="859"/><use href="#d" x="347" y="873"/><use href="#d" x="387" y="819"/><use href="#d" x="413" y="826"/><use href="#d" x="448" y="823"/><use href="#d" x="393" y="844"/><use href="#d" x="373" y="866"/><use href="#d" x="408" y="873"/><use href="#d" x="443" y="876"/><use href="#d" x="390" y="883"/><use href="#d" x="443" y="903"/><use href="#d" x="473" y="906"/><use href="#d" x="510" y="903"/><use href="#d" x="413" y="896"/><use href="#d" x="422" y="924"/><use href="#d" x="75" y="903"/><use href="#d" x="110" y="918"/><use href="#d" x="137" y="926"/><use href="#d" x="183" y="923"/><use href="#d" x="207" y="934"/><use href="#d" x="248" y="923"/><use href="#d" x="117" y="954"/><use href="#d" x="183" y="948"/><use href="#d" x="213" y="966"/><use href="#d" x="247" y="973"/><use href="#d" x="185" y="983"/><use href="#d" x="373" y="365"/><use href="#d" x="500" y="453"/><use href="#d" x="458" y="492"/><use href="#d" x="167" y="508"/><use href="#d" x="758" y="162"/><use href="#d" x="751" y="449"/><use href="#d" x="753" y="488"/><use href="#d" x="966" y="494"/><use href="#d" x="776" y="441"/><use href="#d" x="821" y="568"/><use href="#d" x="896" y="789"/><use href="#d" x="591" y="928"/><use href="#d" x="1044" y="888"/><use href="#d" x="1180" y="976"/><use href="#d" x="824" y="1114"/><use href="#d" x="549" y="1284"/><use href="#d" x="669" y="1282"/><use href="#d" x="668" y="1480"/><use href="#d" x="480" y="1100"/><use href="#d" x="510" y="1163"/>
</g>
<g id="dots-green" fill="#3ab24a">
<use href="#d" x="686" y="649"/><use href="#d" x="676" y="681"/><use href="#d" x="713" y="684"/><use href="#d" x="656" y="694"/><use href="#d" x="699" y="699"/><use href="#d" x="741" y="676"/><use href="#d" x="674" y="706"/><use href="#d" x="723" y="706"/><use href="#d" x="656" y="723"/><use href="#d" x="703" y="743"/><use href="#d" x="723" y="736"/><use href="#d" x="818" y="708"/><use href="#d" x="838" y="696"/><use href="#d" x="873" y="694"/><use href="#d" x="848" y="714"/><use href="#d" x="908" y="723"/><use href="#d" x="831" y="733"/><use href="#d" x="863" y="734"/><use href="#d" x="888" y="711"/><use href="#d" x="834" y="753"/><use href="#d" x="863" y="751"/><use href="#d" x="884" y="768"/><use href="#d" x="809" y="783"/><use href="#d" x="838" y="786"/><use href="#d" x="856" y="769"/><use href="#d" x="813" y="806"/><use href="#d" x="743" y="779"/><use href="#d" x="784" y="816"/><use href="#d" x="946" y="528"/><use href="#d" x="973" y="579"/><use href="#d" x="1003" y="571"/><use href="#d" x="984" y="773"/><use href="#d" x="628" y="397"/><use href="#d" x="654" y="458"/><use href="#d" x="646" y="478"/><use href="#d" x="638" y="502"/><use href="#d" x="841" y="470"/><use href="#d" x="996" y="398"/><use href="#d" x="1029" y="398"/><use href="#d" x="1041" y="422"/><use href="#d" x="1131" y="283"/><use href="#d" x="1121" y="335"/><use href="#d" x="1155" y="335"/><use href="#d" x="1150" y="362"/><use href="#d" x="1079" y="373"/><use href="#d" x="1145" y="388"/><use href="#d" x="1172" y="398"/><use href="#d" x="1089" y="412"/><use href="#d" x="1049" y="422"/><use href="#d" x="1159" y="427"/><use href="#d" x="1149" y="458"/><use href="#d" x="1057" y="485"/><use href="#d" x="1274" y="498"/><use href="#d" x="1279" y="350"/><use href="#d" x="516" y="1225"/><use href="#d" x="507" y="856"/><use href="#d" x="1279" y="778"/><use href="#d" x="1280" y="854"/><use href="#d" x="1226" y="1393"/>
</g>
<g id="dots-orange" fill="#f58220">
<use href="#d" x="1142" y="533"/><use href="#d" x="1192" y="534"/><use href="#d" x="1155" y="554"/><use href="#d" x="1179" y="556"/><use href="#d" x="1205" y="556"/><use href="#d" x="1237" y="569"/><use href="#d" x="1262" y="584"/><use href="#d" x="1282" y="584"/><use href="#d" x="1217" y="589"/><use href="#d" x="1092" y="603"/><use href="#d" x="1235" y="608"/><use href="#d" x="1105" y="621"/><use href="#d" x="1135" y="626"/><use href="#d" x="1092" y="639"/><use href="#d" x="1115" y="646"/><use href="#d" x="1199" y="633"/><use href="#d" x="1225" y="634"/><use href="#d" x="1142" y="654"/><use href="#d" x="1169" y="654"/><use href="#d" x="1212" y="653"/><use href="#d" x="1232" y="656"/><use href="#d" x="1059" y="659"/><use href="#d" x="1089" y="666"/><use href="#d" x="1112" y="671"/><use href="#d" x="1135" y="676"/><use href="#d" x="1192" y="671"/><use href="#d" x="1212" y="674"/><use href="#d" x="1069" y="684"/><use href="#d" x="1095" y="689"/><use href="#d" x="1122" y="693"/><use href="#d" x="1145" y="703"/><use href="#d" x="1175" y="689"/><use href="#d" x="1202" y="703"/><use href="#d" x="1085" y="723"/><use href="#d" x="1112" y="726"/><use href="#d" x="1182" y="723"/><use href="#d" x="1110" y="748"/><use href="#d" x="1094" y="788"/><use href="#d" x="1149" y="789"/><use href="#d" x="1095" y="819"/><use href="#d" x="1069" y="841"/><use href="#d" x="1087" y="931"/><use href="#d" x="536" y="573"/><use href="#d" x="861" y="541"/><use href="#d" x="888" y="529"/><use href="#d" x="891" y="561"/><use href="#d" x="796" y="551"/><use href="#d" x="749" y="603"/><use href="#d" x="799" y="613"/><use href="#d" x="1024" y="644"/><use href="#d" x="1038" y="676"/><use href="#d" x="993" y="681"/><use href="#d" x="964" y="739"/><use href="#d" x="993" y="744"/><use href="#d" x="534" y="744"/><use href="#d" x="584" y="743"/><use href="#d" x="573" y="798"/><use href="#d" x="803" y="203"/><use href="#d" x="1217" y="308"/><use href="#d" x="1194" y="507"/><use href="#d" x="1272" y="382"/><use href="#d" x="938" y="357"/><use href="#d" x="618" y="347"/><use href="#d" x="586" y="355"/><use href="#d" x="313" y="1260"/><use href="#d" x="328" y="1285"/><use href="#d" x="413" y="1337"/><use href="#d" x="1377" y="1114"/><use href="#d" x="1219" y="1159"/><use href="#d" x="1064" y="1189"/><use href="#d" x="1095" y="1264"/><use href="#d" x="1277" y="1335"/>
</g>
<g id="dots-red" fill="#e31a1c">
<use href="#d" x="926" y="741"/><use href="#d" x="769" y="784"/><use href="#d" x="834" y="818"/><use href="#d" x="828" y="848"/><use href="#d" x="854" y="848"/><use href="#d" x="796" y="859"/><use href="#d" x="834" y="876"/><use href="#d" x="861" y="871"/><use href="#d" x="641" y="903"/><use href="#d" x="573" y="911"/><use href="#d" x="556" y="934"/><use href="#d" x="669" y="963"/><use href="#d" x="648" y="989"/><use href="#d" x="683" y="984"/><use href="#d" x="736" y="949"/><use href="#d" x="773" y="943"/><use href="#d" x="798" y="953"/><use href="#d" x="816" y="933"/><use href="#d" x="899" y="928"/><use href="#d" x="884" y="943"/><use href="#d" x="769" y="963"/><use href="#d" x="736" y="979"/><use href="#d" x="763" y="984"/><use href="#d" x="803" y="981"/><use href="#d" x="824" y="978"/><use href="#d" x="856" y="974"/><use href="#d" x="884" y="971"/><use href="#d" x="916" y="963"/><use href="#d" x="948" y="963"/><use href="#d" x="969" y="966"/><use href="#d" x="1001" y="978"/><use href="#d" x="921" y="984"/><use href="#d" x="953" y="986"/><use href="#d" x="984" y="996"/><use href="#d" x="863" y="1006"/><use href="#d" x="903" y="1003"/><use href="#d" x="936" y="1004"/><use href="#d" x="889" y="1029"/><use href="#d" x="859" y="1026"/><use href="#d" x="833" y="1026"/><use href="#d" x="813" y="1033"/><use href="#d" x="918" y="1023"/><use href="#d" x="956" y="1026"/><use href="#d" x="986" y="1029"/><use href="#d" x="569" y="1013"/><use href="#d" x="761" y="921"/><use href="#d" x="779" y="928"/><use href="#d" x="948" y="936"/><use href="#d" x="521" y="511"/><use href="#d" x="1036" y="368"/><use href="#d" x="1185" y="604"/><use href="#d" x="1254" y="704"/><use href="#d" x="1298" y="704"/><use href="#d" x="1152" y="938"/><use href="#d" x="1359" y="861"/><use href="#d" x="1212" y="1200"/><use href="#d" x="1077" y="1217"/><use href="#d" x="936" y="1395"/><use href="#d" x="956" y="1420"/><use href="#d" x="666" y="1102"/><use href="#d" x="714" y="1067"/><use href="#d" x="729" y="1052"/><use href="#d" x="763" y="1057"/><use href="#d" x="799" y="1054"/><use href="#d" x="838" y="1144"/><use href="#d" x="946" y="1077"/><use href="#d" x="976" y="1100"/><use href="#d" x="584" y="1354"/><use href="#d" x="536" y="1367"/><use href="#d" x="574" y="1292"/><use href="#d" x="566" y="1414"/><use href="#d" x="551" y="1457"/><use href="#d" x="243" y="1047"/><use href="#d" x="450" y="1197"/><use href="#d" x="355" y="1242"/><use href="#d" x="377" y="1245"/><use href="#d" x="393" y="1328"/><use href="#d" x="508" y="1352"/><use href="#d" x="355" y="698"/><use href="#d" x="395" y="705"/><use href="#d" x="125" y="794"/><use href="#d" x="210" y="796"/><use href="#d" x="87" y="936"/><use href="#d" x="188" y="1013"/><use href="#d" x="410" y="1024"/><use href="#d" x="510" y="1021"/>
</g>
<g id="dots-blue" fill="#2b7bc0">
<use href="#d" x="1305" y="621"/><use href="#d" x="1339" y="624"/><use href="#d" x="1254" y="633"/><use href="#d" x="1347" y="696"/><use href="#d" x="1357" y="824"/><use href="#d" x="1104" y="864"/><use href="#d" x="1194" y="864"/><use href="#d" x="1124" y="893"/><use href="#d" x="1182" y="888"/><use href="#d" x="1170" y="911"/><use href="#d" x="1197" y="914"/><use href="#d" x="1124" y="939"/><use href="#d" x="1085" y="959"/><use href="#d" x="1152" y="959"/><use href="#d" x="1214" y="959"/><use href="#d" x="1322" y="896"/><use href="#d" x="1379" y="868"/><use href="#d" x="1414" y="866"/><use href="#d" x="1444" y="858"/><use href="#d" x="1444" y="891"/><use href="#d" x="1322" y="938"/><use href="#d" x="1350" y="939"/><use href="#d" x="1410" y="934"/><use href="#d" x="1429" y="944"/><use href="#d" x="1474" y="951"/><use href="#d" x="1345" y="966"/><use href="#d" x="1367" y="963"/><use href="#d" x="1399" y="959"/><use href="#d" x="1432" y="958"/><use href="#d" x="1310" y="966"/><use href="#d" x="1405" y="973"/><use href="#d" x="1452" y="964"/><use href="#d" x="1435" y="993"/><use href="#d" x="1452" y="996"/><use href="#d" x="1379" y="993"/><use href="#d" x="1367" y="1008"/><use href="#d" x="1199" y="996"/><use href="#d" x="1160" y="1009"/><use href="#d" x="1180" y="1008"/><use href="#d" x="1129" y="1003"/><use href="#d" x="1092" y="1003"/><use href="#d" x="1154" y="1033"/><use href="#d" x="1120" y="1038"/><use href="#d" x="1084" y="1026"/><use href="#d" x="1232" y="994"/><use href="#d" x="1342" y="996"/><use href="#d" x="1407" y="1006"/><use href="#d" x="1395" y="1026"/><use href="#d" x="1375" y="1026"/><use href="#d" x="1312" y="1016"/><use href="#d" x="1432" y="1023"/><use href="#d" x="1399" y="523"/><use href="#d" x="1432" y="523"/><use href="#d" x="1189" y="1054"/><use href="#d" x="1204" y="1074"/><use href="#d" x="1219" y="1089"/><use href="#d" x="1262" y="1074"/><use href="#d" x="1282" y="1087"/><use href="#d" x="1294" y="1060"/><use href="#d" x="1322" y="1069"/><use href="#d" x="1344" y="1087"/><use href="#d" x="1364" y="1074"/><use href="#d" x="1384" y="1079"/><use href="#d" x="1364" y="1094"/><use href="#d" x="1309" y="1099"/><use href="#d" x="1329" y="1114"/><use href="#d" x="1150" y="1127"/><use href="#d" x="1275" y="1130"/><use href="#d" x="1310" y="1132"/><use href="#d" x="1332" y="1134"/><use href="#d" x="1354" y="1129"/><use href="#d" x="1252" y="1167"/><use href="#d" x="1280" y="1154"/><use href="#d" x="1315" y="1157"/><use href="#d" x="1230" y="1264"/><use href="#d" x="1215" y="1294"/><use href="#d" x="1244" y="1327"/><use href="#d" x="1239" y="1349"/><use href="#d" x="1252" y="1377"/><use href="#d" x="1204" y="1385"/><use href="#d" x="1112" y="1045"/><use href="#d" x="1142" y="1045"/><use href="#d" x="1370" y="1047"/><use href="#d" x="944" y="393"/><use href="#d" x="1247" y="343"/><use href="#d" x="430" y="703"/><use href="#d" x="462" y="714"/><use href="#d" x="1011" y="664"/><use href="#d" x="796" y="731"/><use href="#d" x="996" y="858"/><use href="#d" x="683" y="874"/><use href="#d" x="669" y="894"/><use href="#d" x="1016" y="956"/><use href="#d" x="893" y="973"/><use href="#d" x="1009" y="1120"/><use href="#d" x="1036" y="1120"/><use href="#d" x="903" y="1209"/><use href="#d" x="1255" y="1025"/><use href="#d" x="1285" y="1030"/><use href="#d" x="1160" y="1070"/><use href="#d" x="1270" y="1005"/><use href="#d" x="1300" y="1040"/>
</g>
<g id="dots-brown" fill="#9a4e1c">
<use href="#d" x="689" y="1122"/><use href="#d" x="649" y="1134"/><use href="#d" x="779" y="1134"/><use href="#d" x="906" y="1099"/><use href="#d" x="1001" y="1084"/><use href="#d" x="863" y="1140"/><use href="#d" x="923" y="1154"/><use href="#d" x="958" y="1194"/><use href="#d" x="1009" y="1145"/><use href="#d" x="881" y="1172"/><use href="#d" x="853" y="1185"/><use href="#d" x="816" y="1190"/><use href="#d" x="786" y="1194"/><use href="#d" x="711" y="1174"/><use href="#d" x="756" y="1185"/><use href="#d" x="776" y="1212"/><use href="#d" x="816" y="1209"/><use href="#d" x="851" y="1209"/><use href="#d" x="743" y="1220"/><use href="#d" x="714" y="1222"/><use href="#d" x="646" y="1227"/><use href="#d" x="829" y="1229"/><use href="#d" x="916" y="1227"/><use href="#d" x="861" y="1245"/><use href="#d" x="914" y="1247"/><use href="#d" x="968" y="1260"/><use href="#d" x="1021" y="1264"/><use href="#d" x="758" y="1267"/><use href="#d" x="786" y="1264"/><use href="#d" x="646" y="1285"/><use href="#d" x="694" y="1282"/><use href="#d" x="816" y="1289"/><use href="#d" x="848" y="1292"/><use href="#d" x="873" y="1289"/><use href="#d" x="909" y="1270"/><use href="#d" x="943" y="1285"/><use href="#d" x="996" y="1282"/><use href="#d" x="1004" y="1302"/><use href="#d" x="919" y="1302"/><use href="#d" x="889" y="1319"/><use href="#d" x="939" y="1319"/><use href="#d" x="986" y="1324"/><use href="#d" x="824" y="1320"/><use href="#d" x="789" y="1335"/><use href="#d" x="729" y="1329"/><use href="#d" x="553" y="1357"/><use href="#d" x="621" y="1355"/><use href="#d" x="649" y="1367"/><use href="#d" x="566" y="1380"/><use href="#d" x="596" y="1395"/><use href="#d" x="633" y="1387"/><use href="#d" x="649" y="1422"/><use href="#d" x="609" y="1407"/><use href="#d" x="593" y="1429"/><use href="#d" x="609" y="1442"/><use href="#d" x="694" y="1460"/><use href="#d" x="724" y="1389"/><use href="#d" x="723" y="1425"/><use href="#d" x="606" y="1485"/><use href="#d" x="696" y="1489"/><use href="#d" x="716" y="1505"/><use href="#d" x="763" y="1497"/><use href="#d" x="596" y="1517"/><use href="#d" x="415" y="1114"/><use href="#d" x="442" y="1134"/><use href="#d" x="395" y="1169"/><use href="#d" x="477" y="1180"/><use href="#d" x="378" y="1199"/><use href="#d" x="478" y="1210"/><use href="#d" x="410" y="1292"/><use href="#d" x="433" y="1295"/><use href="#d" x="503" y="1299"/><use href="#d" x="508" y="1442"/><use href="#d" x="353" y="949"/><use href="#d" x="430" y="946"/><use href="#d" x="388" y="988"/><use href="#d" x="703" y="534"/><use href="#d" x="689" y="564"/><use href="#d" x="648" y="581"/><use href="#d" x="673" y="589"/><use href="#d" x="578" y="651"/><use href="#d" x="924" y="674"/><use href="#d" x="951" y="663"/><use href="#d" x="671" y="156"/><use href="#d" x="886" y="354"/>
</g>
<g id="nodes" class="nd">
<g id="n-DIP2A"><use href="#dm" x="237" y="293"/><text x="221" y="326.5">DIP2A</text></g>
<g id="n-UBR1"><use href="#dm" x="276" y="450"/><text x="259" y="433.5">UBR1</text></g>
<g id="n-HDLBP"><use href="#dm" x="131" y="460"/><text x="117" y="492.5">HDLBP</text></g>
<g id="n-ZMYND8"><text x="384" y="443.5">ZMYND8</text><use href="#dm" x="442" y="428"/></g>
<g id="n-ELAVL3"><use href="#dm" x="493" y="494"/><text x="478" y="479.5">ELAVL3</text></g>
<g id="n-GRIA2"><use href="#dm" x="651" y="338"/><text x="634" y="371.5">GRIA2</text></g>
<g id="n-SATB1"><use href="#dm" x="778" y="387"/><text x="760" y="374.5">SATB1</text></g>
<g id="n-PPP5C"><text x="761" y="415.5">PPP5C</text><use href="#dm" x="814" y="408"/></g>
<g id="n-NR3C2"><use href="#dm" x="699" y="410"/><text x="652" y="441.5">NR3C2</text></g>
<g id="n-SRPRA"><use href="#dm" x="869" y="448"/><text x="889" y="431.5">SRPRA</text></g>
<g id="n-KCNMA1"><use href="#dm" x="794" y="475"/><text x="775" y="460.5">KCNMA1</text></g>
<g id="n-CACNA2D3"><use href="#dm" x="937" y="442"/><text x="970" y="474.5">CACNA2D3</text></g>
<g id="n-TM9SF4"><use href="#dm" x="728" y="477"/><text x="715" y="510.5">TM9SF4</text></g>
<g id="n-TEK"><use href="#dm" x="768" y="497"/><text x="810" y="526.5">TEK</text></g>
<g id="n-GFAP"><use href="#dm" x="990" y="527"/><text x="1018" y="513.5">GFAP</text></g>
<g id="n-NACC1"><use href="#dm" x="595" y="524"/><text x="624" y="558">NACC1</text></g>
<g id="n-LDB1"><use href="#dm" x="730" y="577"/><text x="757" y="561.5">LDB1</text></g>
<g id="n-PTK7"><use href="#dm" x="889" y="232"/><text x="872" y="266.5">PTK7</text></g>
<g id="n-RAI1"><use href="#dm" x="1029" y="312"/><text x="1012" y="301.5">RAI1</text></g>
<g id="n-KDM6B"><text x="1012" y="345.5">KDM6B</text><use href="#dm" x="1062" y="350"/></g>
<g id="n-MBD5"><use href="#dm" x="1078" y="288"/><text x="1105" y="275.5">MBD5</text></g>
<g id="n-AP2S1"><use href="#dm" x="1077" y="320"/><text x="1140" y="331.5">AP2S1</text></g>
<g id="n-NCOA1"><use href="#dm" x="1174" y="300"/><text x="1205" y="289.5">NCOA1</text></g>
<g id="n-TBR1"><use href="#dm" x="1179" y="370"/><text x="1228" y="366.5">TBR1</text></g>
<g id="n-PRR12"><use href="#dm" x="1107" y="370"/><text x="1092" y="403.5">PRR12</text></g>
<g id="n-PTEN"><use href="#dm" x="1321" y="375"/><text x="1304" y="408.5">PTEN</text></g>
<g id="n-SYNGAP1"><use href="#dm" x="1284" y="462"/><text x="1270" y="448.5">SYNGAP1</text></g>
<g id="n-DSCAM"><use href="#dm" x="1339" y="465"/><text x="1360" y="498.5">DSCAM</text></g>
<g id="n-GABRB3"><use href="#dm" x="1147" y="490"/><text x="1135" y="523.5">GABRB3</text></g>
<g id="n-GABRB2"><use href="#dm" x="1234" y="528"/><text x="1283" y="559.5">GABRB2</text></g>
<g id="n-CELF4"><use href="#dm" x="1145" y="603"/><text x="1174" y="588.5">CELF4</text></g>
<g id="n-SKI"><use href="#dm" x="1287" y="653"/><text x="1267" y="684.5">SKI</text></g>
<g id="n-TLK2"><use href="#dm" x="1262" y="741"/><text x="1289" y="728.5">TLK2</text></g>
<g id="n-GRIN2B"><use href="#dm" x="1143" y="736"/><text x="1174" y="769.5">GRIN2B</text></g>
<g id="n-KMT5B"><use href="#dm" x="1040" y="741"/><text x="1026" y="726.5">KMT5B</text></g>
<g id="n-TRAF7"><use href="#dm" x="1218" y="841"/><text x="1204" y="826.5">TRAF7</text></g>
<g id="n-CTNNB1"><use href="#dm" x="1275" y="898"/><text x="1300" y="884.5">CTNNB1</text></g>
<g id="n-SCN2A"><use href="#dm" x="1385" y="899"/><text x="1414" y="933.5">SCN2A</text></g>
<g id="n-SLC6A1"><use href="#dm" x="1232" y="916"/><text x="1216" y="949.5">SLC6A1</text></g>
<g id="n-PPP1R9B"><use href="#dm" x="1245" y="965"/><text x="1275" y="994.5">PPP1R9B</text></g>
<g id="n-SHANK2"><use href="#dm" x="1115" y="966"/><text x="1101" y="1000.5">SHANK2</text></g>
<g id="n-DEAF1"><use href="#dm" x="1337" y="1049"/><text x="1377" y="1031.5">DEAF1</text></g>
<g id="n-CORO1A"><text x="1262" y="1053.5">CORO1A</text><use href="#dm" x="1230" y="1067"/></g>
<g id="n-NRXN1"><use href="#dm" x="1185" y="1098"/><text x="1142" y="1087.5">NRXN1</text></g>
<g id="n-ANK2"><use href="#dm" x="1244" y="1135"/><text x="1271" y="1125.5">ANK2</text></g>
<g id="n-SETD5"><use href="#dm" x="1185" y="1162"/><text x="1172" y="1195.5">SETD5</text></g>
<g id="n-SCN1A"><use href="#dm" x="1129" y="1209"/><text x="1114" y="1240.5">SCN1A</text></g>
<g id="n-TCF20"><use href="#dm" x="1162" y="1332"/><text x="1145" y="1364.5">TCF20</text></g>
<g id="n-EIF3G"><use href="#dm" x="420" y="611"/><text x="403" y="646.5">EIF3G</text></g>
<g id="n-NSD1"><use href="#dm" x="190" y="694"/><text x="174" y="681.5">NSD1</text></g>
<g id="n-SHANK3"><use href="#dm" x="237" y="716"/><text x="267" y="749.5">SHANK3</text></g>
<g id="n-STXBP1"><use href="#dm" x="133" y="751"/><text x="118" y="784.5">STXBP1</text></g>
<g id="n-GIGYF1"><use href="#dm" x="330" y="819"/><text x="315" y="853.5">GIGYF1</text></g>
<g id="n-DYRK1A"><use href="#dm" x="362" y="901"/><text x="328" y="934.5">DYRK1A</text></g>
<g id="n-KIAA0232"><use href="#dm" x="385" y="942"/><text x="417" y="974.5">KIAA0232</text></g>
<g id="n-WAC"><use href="#dm" x="113" y="986"/><text x="95" y="1019.5">WAC</text></g>
<g id="n-TRIP12"><use href="#dm" x="193" y="1075"/><text x="178" y="1105.5">TRIP12</text></g>
<g id="n-IRF2BPL"><use href="#dm" x="370" y="1098"/><text x="355" y="1132.5">IRF2BPL</text></g>
<g id="n-POGZ"><use href="#dm" x="433" y="1174"/><text x="462" y="1159.5">POGZ</text></g>
<g id="n-KMT2C"><use href="#dm" x="378" y="1289"/><text x="340" y="1330.5">KMT2C</text></g>
<g id="n-ASXL3"><use href="#dm" x="478" y="1282"/><text x="474" y="1265.5">ASXL3</text></g>
<g id="n-PHF12"><use href="#dm" x="533" y="1317"/><text x="505" y="1350.5">PHF12</text></g>
<g id="n-PAX5"><text x="512" y="1090.5">PAX5</text><use href="#dm" x="554" y="1079"/></g>
<g id="n-CHD2"><use href="#dm" x="596" y="1140"/><text x="579" y="1127.5">CHD2</text></g>
<g id="n-FOXP2"><text x="574" y="1170.5">FOXP2</text><use href="#dm" x="624" y="1170"/></g>
<g id="n-FOXP1"><use href="#dm" x="673" y="1175"/><text x="698" y="1160.5">FOXP1</text></g>
<g id="n-CREBBP"><use href="#dm" x="741" y="1177"/><text x="816" y="1179.5">CREBBP</text></g>
<g id="n-RORB"><use href="#dm" x="731" y="1125"/><text x="758" y="1110.5">RORB</text></g>
<g id="n-KDM5B"><use href="#dm" x="833" y="1089"/><text x="862" y="1075.5">KDM5B</text></g>
<g id="n-TCF4"><use href="#dm" x="873" y="1114"/><text x="919" y="1144.5">TCF4</text></g>
<g id="n-ADNP"><use href="#dm" x="966" y="1140"/><text x="1004" y="1170.5">ADNP</text></g>
<g id="n-KMT2E"><use href="#dm" x="678" y="1227"/><text x="706" y="1215.5">KMT2E</text></g>
<g id="n-TCF7L2"><use href="#dm" x="604" y="1203"/><text x="588" y="1235.5">TCF7L2</text></g>
<g id="n-SIN3A"><text x="571" y="1265.5">SIN3A</text><use href="#dm" x="609" y="1264"/></g>
<g id="n-PHF21A"><use href="#dm" x="656" y="1255"/><text x="726" y="1259.5">PHF21A</text></g>
<g id="n-MYT1L"><use href="#dm" x="875" y="1235"/><text x="859" y="1270.5">MYT1L</text></g>
<g id="n-TBL1XR1"><use href="#dm" x="726" y="1286"/><text x="756" y="1319.5">TBL1XR1</text></g>
<g id="n-BCL11A"><use href="#dm" x="612" y="1298"/><text x="609" y="1332.5">BCL11A</text></g>
<g id="n-MKX"><use href="#dm" x="676" y="1324"/><text x="691" y="1364.5">MKX</text></g>
<g id="n-MED13L"><use href="#dm" x="862" y="1330"/><text x="893" y="1367.5">MED13L</text></g>
<g id="n-SMARCC2"><use href="#dm" x="718" y="1432"/><text x="704" y="1414.5">SMARCC2</text></g>
<g id="n-ARID1B"><use href="#dm" x="768" y="1444"/><text x="824" y="1474.5">ARID1B</text></g>
<g id="n-CHD8"><use href="#dm" x="656" y="652"/><text x="639" y="641.5">CHD8</text></g>
<g id="n-KCNQ3"><use href="#dm" x="719" y="656"/><text x="749" y="641.5">KCNQ3</text></g>
<g id="n-LRRC4C"><use href="#dm" x="777" y="654"/><text x="808" y="688.5">LRRC4C</text></g>
<g id="n-GNAI1"><use href="#dm" x="774" y="699"/><text x="758" y="731.5">GNAI1</text></g>
<g id="n-PHF2"><use href="#dm" x="626" y="702"/><text x="611" y="691.5">PHF2</text></g>
<g id="n-ANKRD11"><use href="#dm" x="633" y="739"/><text x="566" y="732.5">ANKRD11</text></g>
<g id="n-DNMT3A"><text x="609" y="771.5">DNMT3A</text><use href="#dm" x="668" y="774"/></g>
<g id="n-SPAST"><use href="#dm" x="711" y="776"/><text x="773" y="766.5">SPAST</text></g>
<g id="n-RFX3"><use href="#dm" x="724" y="824"/><text x="753" y="813.5">RFX3</text></g>
<g id="n-ASH1L"><use href="#dm" x="866" y="796"/><text x="893" y="826.5">ASH1L</text></g>
<g id="n-DPYSL2"><use href="#dm" x="622" y="854"/><text x="605" y="841.5">DPYSL2</text></g>
<g id="n-TRIM23"><use href="#dm" x="567" y="871"/><text x="554" y="905.5">TRIM23</text></g>
<g id="n-NUP155"><use href="#dm" x="759" y="869"/><text x="744" y="858.5">NUP155</text></g>
<g id="n-MAP1A"><use href="#dm" x="791" y="888"/><text x="821" y="919.5">MAP1A</text></g>
<g id="n-TAOK1"><use href="#dm" x="681" y="936"/><text x="708" y="921.5">TAOK1</text></g>
<g id="n-DYNC1H1"><use href="#dm" x="854" y="934"/><text x="881" y="966.5">DYNC1H1</text></g>
<g id="n-VEZF1"><use href="#dm" x="628" y="944"/><text x="611" y="978.5">VEZF1</text></g>
<g id="n-PPP2R5D"><use href="#dm" x="728" y="1018"/><text x="758" y="1004.5">PPP2R5D</text></g>
</g>
</g>
</svg>
